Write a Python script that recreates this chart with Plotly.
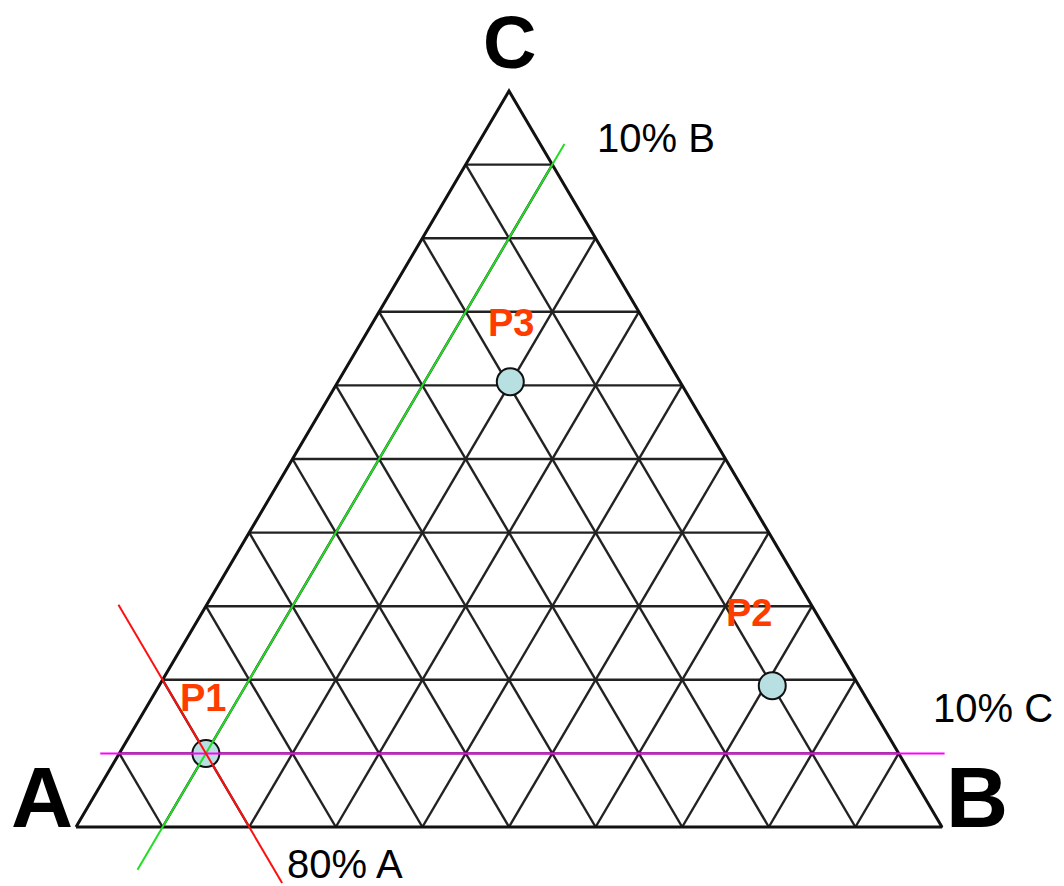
import plotly.graph_objects as go

# Ternary compositions (A, B, C) of the three sample points
point_names = ["P1", "P2", "P3"]
point_a = [0.8, 0.1, 0.196]
point_b = [0.1, 0.708, 0.199]
point_c = [0.1, 0.192, 0.605]

# Grid divisions along each side
grid_steps = [k / 10 for k in range(1, 10)]

# Guide lines through P1, given as start/end compositions (extended past the edges)
guide_names = ["10% B", "10% C", "80% A"]
guide_start = [(0.958, 0.1, -0.058), (0.922, -0.022, 0.1), (0.8, 0.276, -0.076)]
guide_end = [(-0.028, 0.1, 0.928), (-0.053, 0.953, 0.1), (0.8, -0.102, 0.302)]
guide_colors = ["#22dd22", "#ff00ff", "#ff1010"]


def to_xy(a, b, c):
    """Convert a composition to cartesian (A bottom-left, B bottom-right, C top)."""
    return b + c / 2.0, c


W, H = 1064, 886
# pixel placement of the triangle (A corner, side length, height)
PX_A, PY_A, SIDE_PX, HEIGHT_PX = 76, 827, 866, 736
x_range = [-PX_A / SIDE_PX, (W - PX_A) / SIDE_PX]
y_range = [(PY_A - H) / HEIGHT_PX, PY_A / HEIGHT_PX]


def px_to_xy(px, py):
    return (px - PX_A) / SIDE_PX, (PY_A - py) / HEIGHT_PX


fig = go.Figure()

# grid lines: constant A, constant B, constant C
gx, gy = [], []
for s in grid_steps:
    r = 1 - s
    for p, q in [((s, r, 0), (s, 0, r)), ((r, s, 0), (0, s, r)), ((r, 0, s), (0, r, s))]:
        x1, y1 = to_xy(*p)
        x2, y2 = to_xy(*q)
        gx += [x1, x2, None]
        gy += [y1, y2, None]
fig.add_trace(go.Scatter(x=gx, y=gy, mode="lines",
                         line=dict(color="#222222", width=2.4), hoverinfo="skip",
                         showlegend=False))

# outer triangle
corners = [(1, 0, 0), (0, 1, 0), (0, 0, 1), (1, 0, 0)]
tx = [to_xy(*c)[0] for c in corners]
ty = [to_xy(*c)[1] for c in corners]
fig.add_trace(go.Scatter(x=tx, y=ty, mode="lines",
                         line=dict(color="#111111", width=3), hoverinfo="skip",
                         showlegend=False))

# sample points
pxs = [to_xy(a, b, c)[0] for a, b, c in zip(point_a, point_b, point_c)]
pys = [to_xy(a, b, c)[1] for a, b, c in zip(point_a, point_b, point_c)]
fig.add_trace(go.Scatter(x=pxs, y=pys, mode="markers",
                         marker=dict(size=27, color="#b8dfe2",
                                     line=dict(color="#111111", width=2)),
                         text=point_names, hoverinfo="text", showlegend=False))

# guide lines
for name, s, e, col in zip(guide_names, guide_start, guide_end, guide_colors):
    x1, y1 = to_xy(*s)
    x2, y2 = to_xy(*e)
    fig.add_trace(go.Scatter(x=[x1, x2], y=[y1, y2], mode="lines",
                             line=dict(color=col, width=2), name=name,
                             hoverinfo="name", showlegend=False))

annotations = []

# corner labels
corner_font = "Liberation Sans, Arial, sans-serif"
for label, (px, py), size in [("A", (41.5, 797), 86), ("B", (977, 797), 86), ("C", (509, 42), 74)]:
    x, y = px_to_xy(px, py)
    annotations.append(dict(x=x, y=y, text="<b>%s</b>" % label, showarrow=False,
                            xanchor="center", yanchor="middle",
                            font=dict(family=corner_font, size=size, color="#000000")))

# guide line labels
for label, (px, py) in zip(guide_names, [(595, 138), (931, 708), (285, 864)]):
    x, y = px_to_xy(px, py)
    annotations.append(dict(x=x, y=y, text=label, showarrow=False,
                            xanchor="left", yanchor="middle",
                            font=dict(family=corner_font, size=40, color="#000000")))

# point labels, offset above each point
offsets = [(-3, 55), (-23, 73), (1, 59)]
for name, x, y, (dx, dy) in zip(point_names, pxs, pys, offsets):
    annotations.append(dict(x=x, y=y, text="<b>%s</b>" % name, showarrow=False,
                            xanchor="center", yanchor="middle", xshift=dx, yshift=dy,
                            font=dict(family=corner_font, size=38, color="#ff3c00")))

fig.update_layout(
    width=W, height=H,
    margin=dict(l=0, r=0, t=0, b=0),
    paper_bgcolor="#ffffff", plot_bgcolor="#ffffff",
    xaxis=dict(range=x_range, visible=False, fixedrange=True),
    yaxis=dict(range=y_range, visible=False, fixedrange=True),
    annotations=annotations,
)

fig.write_html("out.html")
